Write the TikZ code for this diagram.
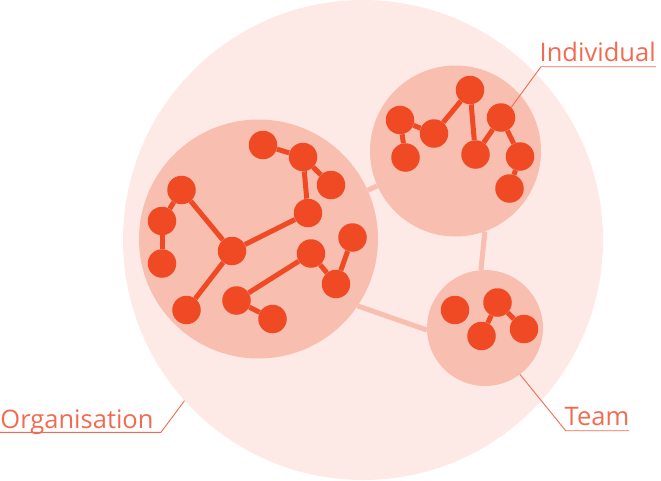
\documentclass[tikz,border=0pt]{standalone}
\usepackage{fontspec}
\setmainfont{Open Sans}
\usepackage{tikz}
\usetikzlibrary{calc}

\definecolor{orgpink}{HTML}{FDEAE6}
\definecolor{grppink}{HTML}{F8BFB0}
\definecolor{dotred}{HTML}{F04A24}
\definecolor{lblred}{HTML}{F26B50}

\begin{document}
\begin{tikzpicture}[x=1pt,y=-1pt,
    blob/.style={circle, fill=#1, inner sep=0},
    dot/.style={circle, fill=dotred, inner sep=0, minimum size=28.5pt},
    bond/.style={dotred, line width=5pt},
    link/.style={grppink, line width=5pt},
    lead/.style={lblred, line width=0.9pt},
    lbl/.style={text=lblred, inner sep=0, anchor=base west, font=\fontsize{25.5pt}{30pt}\selectfont}]
  \useasboundingbox (0,0) rectangle (661,480);

  % circles
  \node[blob=orgpink, minimum size=480pt] (org) at (363,240) {};
  \node[blob=grppink, minimum size=239pt] (grp) at (258.5,239) {};
  \node[blob=grppink, minimum size=171pt] (ind) at (455.5,151) {};
  \node[blob=grppink, minimum size=116pt] (team) at (485,328) {};

  \draw[link] (grp) -- (ind);
  \draw[link] (grp.-34) -- (team.182);
  \draw[link] (ind.-70) -- (team.94);

  % dots
  \foreach \n/\x/\y in {a1/263/145, a2/303/157, a3/331/185, a4/308/213, a5/181.5/190,
      a6/162/221, a7/162/263.5, a8/232/251, a9/186.5/310, a10/311/253.5, a11/352.5/237.5,
      a12/336/284, a13/236.5/300.5, a14/272.5/319,
      b1/400/120, b2/405.5/157.5, b3/434/133.5, b4/470/90, b5/475.5/154.5, b6/501/117.5,
      b7/520/156.5, b8/509.5/188.5,
      c1/455/310, c2/497.5/302.5, c3/481.5/336, c4/524/329}
    \node[dot] (\n) at (\x,\y) {};

  \foreach \s/\t in {a1/a2, a2/a3, a2/a4, a4/a8, a8/a5, a5/a6, a6/a7, a8/a9,
      a13/a10, a10/a12, a12/a11, a13/a14,
      b1/b2, b1/b3, b3/b4, b4/b5, b5/b6, b6/b7, b7/b8,
      c2/c3, c2/c4}
    \draw[bond] (\s) -- (\t);

  % labels
  \node[lbl] (lind) at (539.5,61) {Individual};
  \node[lbl] (lteam) at (564.5,425) {Team};
  \node[lbl] (lorg) at (0.2,428.3) {Organisation};

  \coordinate (cind) at (541,66.7);
  \coordinate (cteam) at (565.7,430.7);
  \coordinate (corg) at (161,432.3);

  \draw[lead] (b6.45) -- (cind) -- (cind -| lind.east);
  \draw[lead] (team.-53) -- (cteam) -- (cteam -| lteam.east);
  \draw[lead] (org.222) -- (corg) -- (corg -| lorg.west);
\end{tikzpicture}
\end{document}
